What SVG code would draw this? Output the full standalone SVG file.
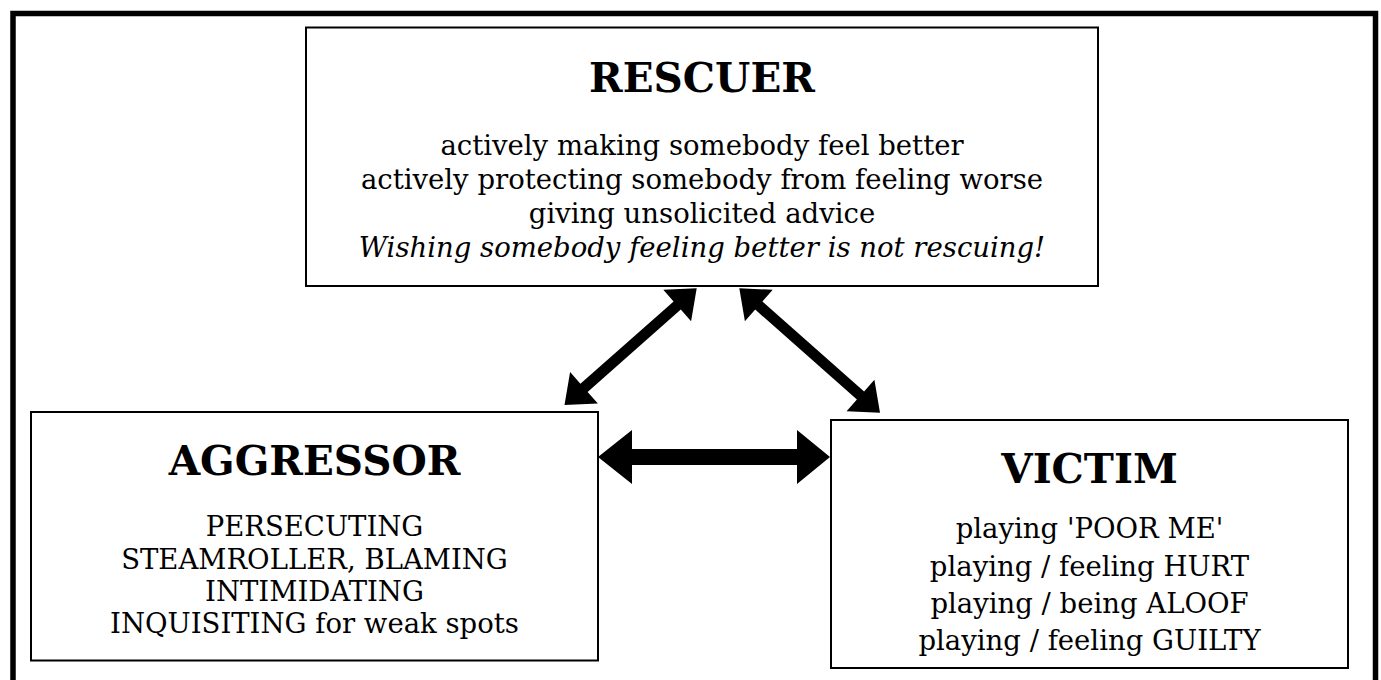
<svg xmlns="http://www.w3.org/2000/svg" width="1381" height="680" viewBox="0 0 1381 680">
<style>
.frame{fill:none;stroke:#000;stroke-width:5.5}
.box{fill:#fff;stroke:#000;stroke-width:2}
.t{font-family:"DejaVu Serif","Liberation Serif",serif;text-anchor:middle;fill:#000}
.title{font-weight:bold;font-size:40.5px}
.body{font-size:27.5px}
.arrow{fill:#000;stroke:none}
</style>
<rect x="0" y="0" width="1381" height="680" fill="#fff"/>
<rect class="frame" x="13" y="13.5" width="1362.5" height="700"/>
<g id="connectors">
<polygon class="arrow" points="598,457 632,430 632,449 797,449 797,430 830,457 797,484 797,465 632,465 632,484"/>
<polygon class="arrow" points="564.5,405 570.1,372.1 580.4,383.7 673.6,301.4 663.3,289.8 696.7,288.3 691.1,321.3 680.8,309.6 587.6,391.9 597.9,403.6"/>
<polygon class="arrow" points="739.3,288.3 772.7,289.8 762.4,301.4 864.1,391.4 874.4,379.8 880,412.7 846.6,411.2 856.9,399.6 755.2,309.6 744.9,321.2"/>
</g>
<g id="rescuer">
<rect class="box" x="306" y="27.5" width="792" height="258.5"/>
<text class="t title" x="702" y="92">RESCUER</text>
<text class="t body" x="702" y="155">actively making somebody feel better</text>
<text class="t body" x="702" y="189">actively protecting somebody from feeling worse</text>
<text class="t body" x="702" y="223">giving unsolicited advice</text>
<text class="t body" x="702" y="257" font-style="italic">Wishing somebody feeling better is not rescuing!</text>
</g>
<g id="aggressor">
<rect class="box" x="31" y="412" width="567" height="248.5"/>
<text class="t title" x="314.5" y="475">AGGRESSOR</text>
<text class="t body" x="314.5" y="536">PERSECUTING</text>
<text class="t body" x="314.5" y="569">STEAMROLLER, BLAMING</text>
<text class="t body" x="314.5" y="601">INTIMIDATING</text>
<text class="t body" x="314.5" y="633">INQUISITING for weak spots</text>
</g>
<g id="victim">
<rect class="box" x="831" y="420" width="517" height="248"/>
<text class="t title" x="1089.5" y="483">VICTIM</text>
<text class="t body" x="1089.5" y="538">playing 'POOR ME'</text>
<text class="t body" x="1089.5" y="575.5">playing / feeling HURT</text>
<text class="t body" x="1089.5" y="612.5">playing / being ALOOF</text>
<text class="t body" x="1089.5" y="649.5">playing / feeling GUILTY</text>
</g>
</svg>
